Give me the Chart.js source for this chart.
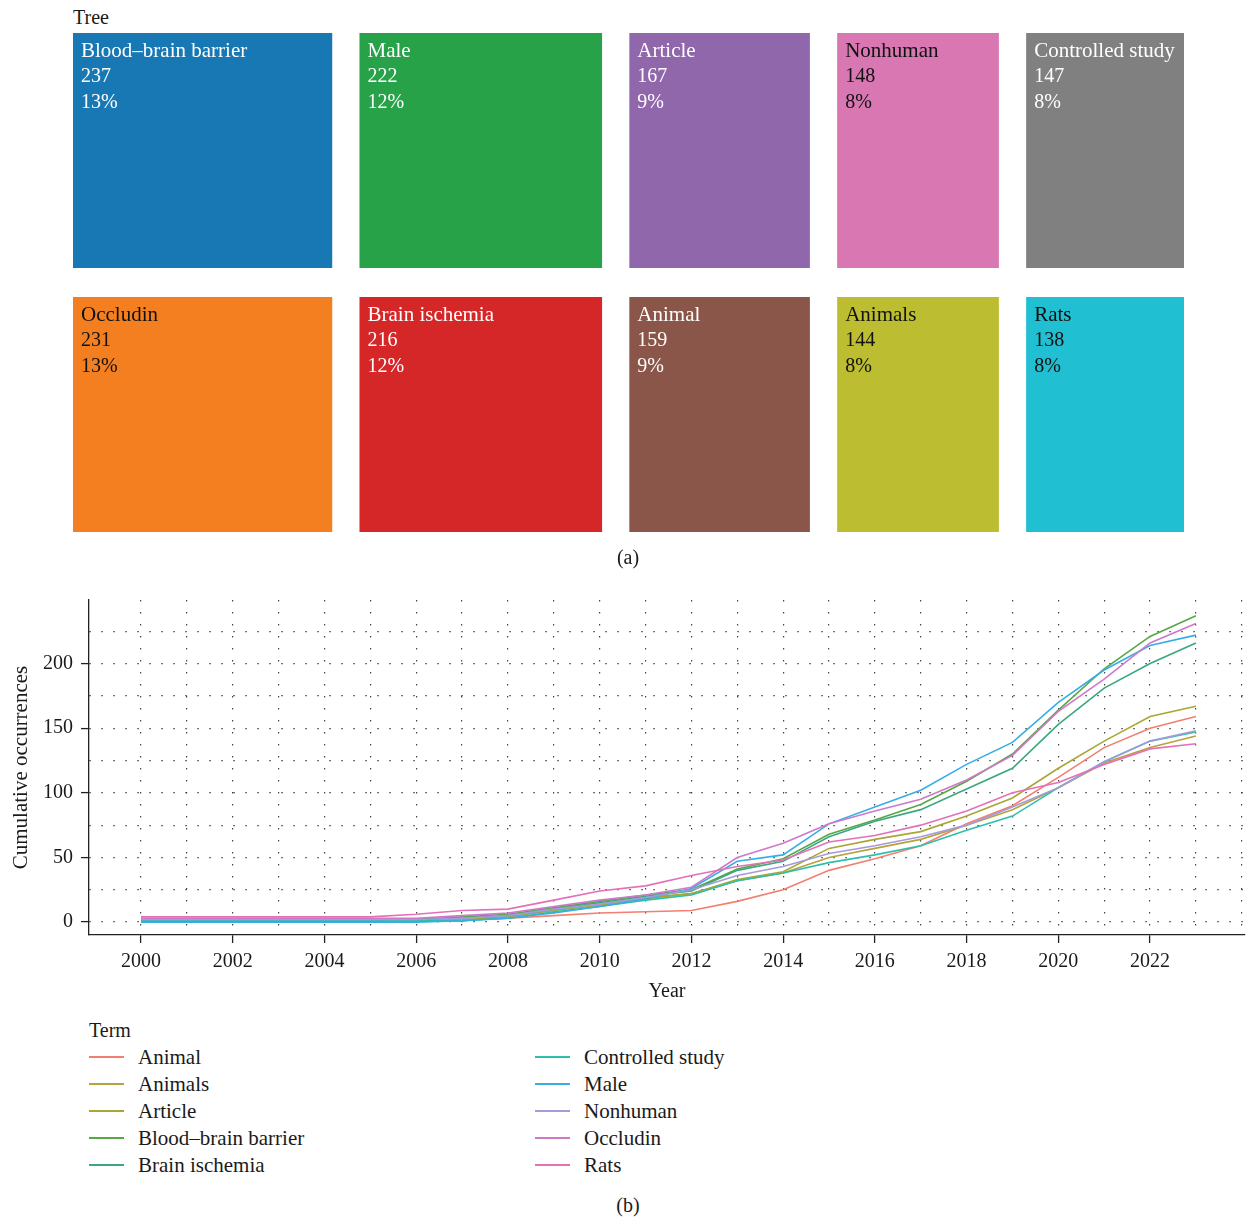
<!DOCTYPE html>
<html>
<head>
<meta charset="utf-8">
<script src="https://cdn.jsdelivr.net/npm/chart.js@4.4.0/dist/chart.umd.min.js"></script>
<style>
    body { margin: 0; background: #fff; font-family: "Liberation Serif", serif; color: #1a1a1a; }
    #page { position: relative; width: 1249px; height: 1217px; overflow: hidden; }
    .txt { position: absolute; font-size: 20px; line-height: 20px; white-space: nowrap; }
    .big { font-size: 21px; }
    .center { transform: translateX(-50%); }
    #treeChart { position: absolute; left: 0; top: 0; }
    #lineChart { position: absolute; left: 0; top: 580px; }
    .legend-line { position: absolute; width: 35px; height: 1.6px; }
</style>
</head>
<body>
<div id="page">
    <div class="txt" style="left:73px; top:7px;">Tree</div>
    <canvas id="treeChart" width="1249" height="548"></canvas>
    <div class="txt center" style="left:628px; top:547px;">(a)</div>
    <canvas id="lineChart" width="1249" height="430"></canvas>
    <div id="legend"></div>
    <div class="txt center" style="left:628px; top:1195px;">(b)</div>
</div>
<script>
// Treemap cells (as laid out: top row / bottom row)
const treeTopNames = ['Blood–brain barrier', 'Male', 'Article', 'Nonhuman', 'Controlled study'];
const treeTopValues = [237, 222, 167, 148, 147];
const treeBottomNames = ['Occludin', 'Brain ischemia', 'Animal', 'Animals', 'Rats'];
const treeBottomValues = [231, 216, 159, 144, 138];
const treeTopColors = ['#1878b4', '#27a249', '#9167ab', '#d877b1', '#808080'];
const treeBottomColors = ['#f47f20', '#d62728', '#8a5649', '#bcbd30', '#20bfd1'];

// Cumulative occurrences by year
const years = [2000, 2001, 2002, 2003, 2004, 2005, 2006, 2007, 2008, 2009, 2010, 2011,
               2012, 2013, 2014, 2015, 2016, 2017, 2018, 2019, 2020, 2021, 2022, 2023];
const yearTickLabels = [2000, 2002, 2004, 2006, 2008, 2010, 2012, 2014, 2016, 2018, 2020, 2022];
const yTickLabels = [0, 50, 100, 150, 200];

const termNames = ['Animal', 'Animals', 'Article', 'Blood–brain barrier', 'Brain ischemia',
                   'Controlled study', 'Male', 'Nonhuman', 'Occludin', 'Rats'];
const animal     = [1, 1, 1, 1, 1, 1, 1, 2, 3, 5, 7, 8, 9, 16, 25, 40, 49, 59, 76, 90, 112, 135, 150, 159];
const animals    = [1, 1, 1, 1, 1, 1, 1, 1, 4, 9, 13, 18, 22, 32, 38, 50, 57, 64, 75, 87, 104, 123, 135, 144];
const article    = [1, 1, 1, 1, 1, 1, 1, 1, 5, 10, 14, 19, 22, 33, 39, 57, 64, 70, 82, 96, 119, 140, 159, 167];
const bbb        = [1, 1, 1, 1, 1, 1, 2, 4, 6, 11, 16, 21, 25, 41, 49, 68, 79, 91, 109, 130, 164, 196, 221, 237];
const ischemia   = [1, 1, 1, 1, 1, 1, 2, 3, 5, 10, 15, 20, 24, 40, 47, 66, 78, 87, 103, 119, 153, 181, 200, 216];
const controlled = [1, 1, 1, 1, 1, 1, 1, 1, 3, 8, 12, 17, 21, 32, 38, 46, 52, 59, 71, 82, 104, 124, 140, 147];
const male       = [0, 0, 0, 0, 0, 0, 0, 1, 3, 7, 12, 18, 26, 47, 52, 76, 89, 102, 122, 139, 170, 195, 214, 222];
const nonhuman   = [2, 2, 2, 2, 2, 2, 2, 3, 5, 10, 14, 19, 25, 36, 43, 53, 59, 66, 75, 89, 104, 124, 140, 148];
const occludin   = [3, 3, 3, 3, 3, 3, 3, 5, 7, 12, 17, 21, 27, 50, 61, 76, 86, 95, 110, 129, 163, 188, 216, 231];
const rats       = [4, 4, 4, 4, 4, 4, 6, 9, 10, 17, 24, 28, 36, 43, 48, 62, 67, 75, 86, 100, 108, 122, 134, 138];
const termSeries = [animal, animals, article, bbb, ischemia, controlled, male, nonhuman, occludin, rats];
const termColors = ['#f27f70', '#b8a23c', '#a9a634', '#56a845', '#3aa77e',
                    '#2ebfaa', '#35aee6', '#a39bdc', '#cf78c9', '#e470b8'];

const FONT = '"Liberation Serif", serif';

// ---------- treemap (floating horizontal bars) ----------
const total = treeTopValues.concat(treeBottomValues).reduce((a, b) => a + b, 0);
const gap = total * 0.0272;

function textColorFor(hex) {
    const c = [1, 3, 5].map(i => parseInt(hex.substr(i, 2), 16) / 255)
        .map(v => v <= 0.03928 ? v / 12.92 : Math.pow((v + 0.055) / 1.055, 2.4));
    const lum = 0.2126 * c[0] + 0.7152 * c[1] + 0.0722 * c[2];
    return lum > 0.3 ? '#111' : '#fff';
}

let cursor = 0;
const treeDatasets = treeTopValues.map((v, i) => {
    const start = cursor;
    const end = start + v + treeBottomValues[i];
    cursor = end + gap;
    return {
        data: [[start, end], [start, end]],
        names: [treeTopNames[i], treeBottomNames[i]],
        values: [v, treeBottomValues[i]],
        backgroundColor: [treeTopColors[i], treeBottomColors[i]],
        textColors: [textColorFor(treeTopColors[i]), textColorFor(treeBottomColors[i])],
        grouped: false,
        categoryPercentage: 1,
        barPercentage: 0.89,
        borderWidth: 0
    };
});

const cellLabels = {
    id: 'cellLabels',
    afterDatasetsDraw(chart) {
        const ctx = chart.ctx;
        ctx.save();
        ctx.textBaseline = 'middle';
        chart.data.datasets.forEach((ds, i) => {
            chart.getDatasetMeta(i).data.forEach((bar, j) => {
                const left = Math.min(bar.x, bar.base);
                const top = bar.y - bar.height / 2;
                ctx.fillStyle = ds.textColors[j];
                ctx.font = '21px ' + FONT;
                ctx.fillText(ds.names[j], left + 8, top + 18.5);
                ctx.font = '20px ' + FONT;
                ctx.fillText(String(ds.values[j]), left + 8, top + 43.5);
                ctx.fillText(Math.round(ds.values[j] / total * 100) + '%', left + 8, top + 69.5);
            });
        });
        ctx.restore();
    }
};

new Chart(document.getElementById('treeChart'), {
    type: 'bar',
    data: { labels: ['top', 'bottom'], datasets: treeDatasets },
    options: {
        indexAxis: 'y',
        responsive: false,
        animation: false,
        layout: { padding: { left: 73, right: 65, top: 18.5, bottom: 1.5 } },
        plugins: { legend: { display: false }, tooltip: { enabled: false } },
        scales: {
            x: { type: 'linear', display: false, min: 0, max: cursor - gap },
            y: { display: false }
        }
    },
    plugins: [cellLabels]
});

// ---------- line chart ----------
const lineDatasets = termNames.map((name, i) => ({
    label: name,
    data: years.map((y, k) => ({ x: y, y: termSeries[i][k] })),
    borderColor: termColors[i],
    backgroundColor: termColors[i],
    borderWidth: 1.6,
    pointRadius: 0,
    tension: 0,
    order: termNames.length - i
}));

new Chart(document.getElementById('lineChart'), {
    type: 'line',
    data: { datasets: lineDatasets },
    options: {
        responsive: false,
        animation: false,
        layout: { padding: { left: 0, right: 4, top: 18, bottom: 0 } },
        plugins: { legend: { display: false }, tooltip: { enabled: false } },
        scales: {
            x: {
                type: 'linear',
                min: 1998.866,
                max: 2024.07,
                afterBuildTicks: axis => {
                    const ticks = [];
                    for (let v = years[0]; v <= years[years.length - 1] + 1; v++) ticks.push({ value: v });
                    axis.ticks = ticks;
                },
                afterFit: axis => { axis.height = 75; },
                ticks: {
                    autoSkip: false,
                    maxRotation: 0,
                    padding: 7,
                    color: '#1a1a1a',
                    font: { family: FONT, size: 20 },
                    callback: v => yearTickLabels.includes(v) ? String(v) : ''
                },
                grid: {
                    color: '#444',
                    lineWidth: 1.2,
                    tickLength: 8,
                    tickWidth: 1.3,
                    tickColor: c => yearTickLabels.includes(c.tick.value) ? '#222' : 'rgba(0,0,0,0)'
                },
                border: { color: '#222', width: 1.3, dash: [1.5, 10.5] },
                title: {
                    display: true,
                    text: 'Year',
                    color: '#1a1a1a',
                    font: { family: FONT, size: 20 },
                    padding: { top: 0, bottom: 6 }
                }
            },
            y: {
                type: 'linear',
                min: -10,
                max: 249.2,
                afterBuildTicks: axis => {
                    const ticks = [];
                    for (let v = 0; v <= 225; v += 25) ticks.push({ value: v });
                    axis.ticks = ticks;
                },
                afterFit: axis => { axis.width = 89; },
                ticks: {
                    padding: 8,
                    color: '#1a1a1a',
                    font: { family: FONT, size: 20 },
                    callback: v => yTickLabels.includes(v) ? String(v) : ''
                },
                grid: {
                    color: '#444',
                    lineWidth: 1.2,
                    tickLength: 8,
                    tickWidth: 1.3,
                    tickColor: c => yTickLabels.includes(c.tick.value) ? '#222' : 'rgba(0,0,0,0)'
                },
                border: { color: '#222', width: 1.3, dash: [1.5, 10.5] },
                title: {
                    display: true,
                    text: 'Cumulative occurrences',
                    color: '#1a1a1a',
                    font: { family: FONT, size: 21 },
                    padding: { top: 9, bottom: 0 }
                }
            }
        }
    }
});

// ---------- legend ----------
const legend = document.getElementById('legend');
legend.innerHTML = '<div class="txt" style="left:89px; top:1020px;">Term</div>' +
    termNames.map((name, i) => {
        const col = Math.floor(i / 5), row = i % 5;
        const x = col === 0 ? 89 : 535;
        const y = 1057 + row * 27;
        return `<div class="legend-line" style="left:${x}px; top:${y - 1}px; background:${termColors[i]};"></div>` +
               `<div class="txt big" style="left:${x + 49}px; top:${y - 10}px;">${name}</div>`;
    }).join('');
</script>
</body>
</html>
